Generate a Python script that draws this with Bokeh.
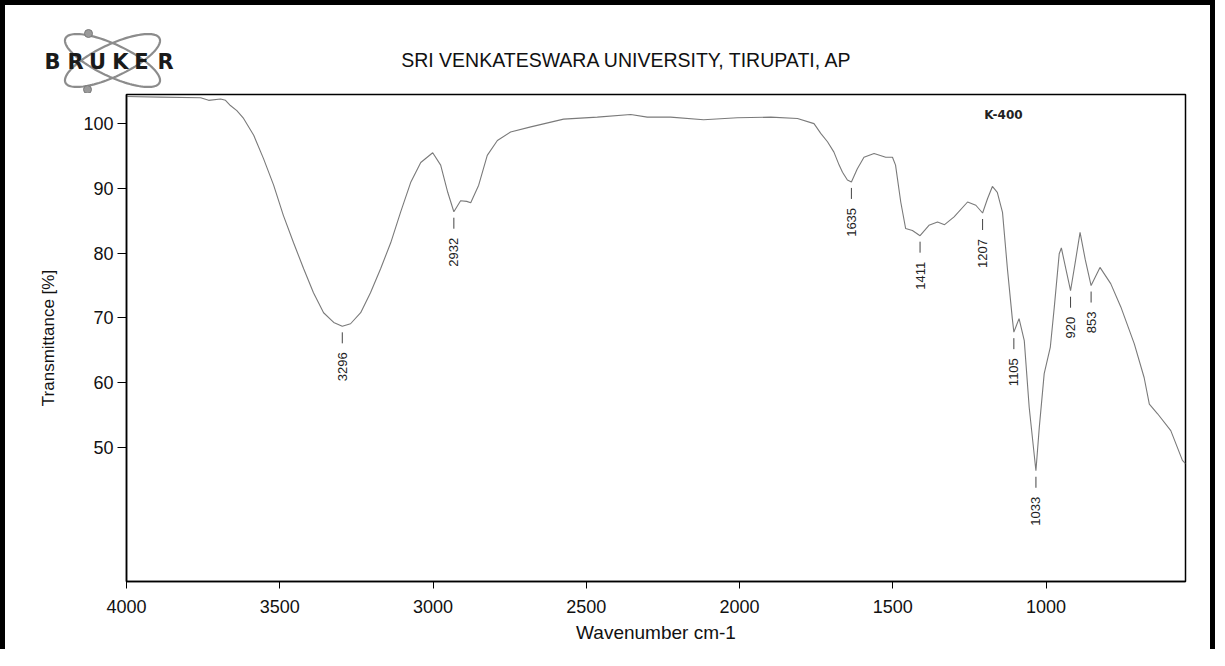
import numpy as np
from bokeh.plotting import figure
from bokeh.layouts import column
from bokeh.models import Range1d, FixedTicker, Label
from bokeh.core.properties import value
from bokeh.embed import file_html
from bokeh.resources import INLINE

# ---------------- data ----------------
wavenumber = [4000, 3889, 3758, 3732, 3693, 3677, 3661, 3640, 3618, 3585, 3553,
              3520, 3488, 3455, 3422, 3390, 3357, 3324, 3296, 3269, 3236, 3204,
              3171, 3138, 3106, 3073, 3040, 3001, 2975, 2952, 2932, 2910, 2890,
              2877, 2851, 2823, 2790, 2747, 2681, 2574, 2464, 2355, 2301, 2225,
              2117, 2007, 1898, 1811, 1757, 1735, 1713, 1692, 1675, 1664, 1648,
              1635, 1616, 1594, 1561, 1523, 1501, 1491, 1474, 1458, 1436, 1411,
              1382, 1354, 1331, 1300, 1256, 1229, 1207, 1191, 1175, 1159, 1142,
              1126, 1110, 1105, 1088, 1071, 1055, 1033, 1022, 1006, 986, 973,
              957, 950, 935, 920, 905, 889, 872, 853, 824, 789, 756, 712, 680,
              663, 636, 593, 555, 545]
transmittance = [104.2, 104.1, 104.0, 103.6, 103.8, 103.6, 102.8, 102.0, 100.8,
                 98.2, 94.6, 90.5, 85.8, 81.6, 77.6, 73.9, 70.8, 69.3, 68.7, 69.1,
                 70.8, 73.9, 77.6, 81.6, 86.3, 90.9, 94.0, 95.5, 93.6, 89.4, 86.4,
                 88.1, 88.0, 87.8, 90.5, 95.1, 97.4, 98.7, 99.5, 100.7, 101.0,
                 101.4, 101.0, 101.0, 100.6, 100.9, 101.0, 100.8, 100.0, 98.5,
                 97.2, 95.6, 93.6, 92.5, 91.3, 91.0, 93.0, 94.8, 95.4, 94.8, 94.8,
                 93.6, 87.9, 83.8, 83.5, 82.7, 84.3, 84.8, 84.4, 85.6, 87.9, 87.4,
                 86.2, 88.4, 90.3, 89.4, 86.3, 77.6, 69.9, 67.8, 69.9, 66.5, 56.2,
                 46.4, 53.1, 61.4, 65.5, 71.7, 79.9, 80.8, 77.5, 74.2, 78.5, 83.2,
                 79.0, 75.0, 77.8, 75.3, 71.7, 66.0, 60.8, 56.7, 55.2, 52.6, 48.0,
                 47.5]

peak_wn = [3296, 2932, 1635, 1411, 1207, 1105, 1033, 920, 853]
peak_t = [68.7, 86.4, 91.0, 82.7, 86.2, 67.8, 46.4, 74.2, 75.0]
peak_labels = ["3296", "2932", "1635", "1411", "1207", "1105", "1033", "920", "853"]

x_ticks = [4000, 3500, 3000, 2500, 2000, 1500, 1000]
y_ticks = [50, 60, 70, 80, 90, 100]

title_text = "SRI VENKATESWARA UNIVERSITY,  TIRUPATI,  AP"
sample_text = "K-400"
logo_text = "BRUKER"

# ---------------- layout ----------------
X_START, X_END = 4000, 545
Y_MIN, Y_MAX = 29.3, 104.5
BORDER = 5
W = 1205
HEAD_H = 88
ML, MR, MT, MB = 121, 25, 1, 68
FH = 487
H = MT + FH + MB
FW = W - ML - MR
FONT = "Liberation Sans"
KY = (Y_MAX - Y_MIN) / FH  # data units per pixel vertically

# ---------------- header (logo + title) ----------------
head = figure(width=W, height=HEAD_H, output_backend="svg", toolbar_location=None,
              x_range=Range1d(0, W), y_range=Range1d(HEAD_H, 0),
              min_border=0, x_axis_location=None, y_axis_location=None)
head.frame_align = False
head.xgrid.visible = False
head.ygrid.visible = False
head.outline_line_color = None

ox, oy = BORDER, BORDER  # header origin in page-picture pixels
tt = np.linspace(0, 2 * np.pi, 120)
for ang in (0.44, -0.44):
    ex = 112 + 52 * np.cos(tt) * np.cos(ang) - 16 * np.sin(tt) * np.sin(ang)
    ey = 60 + 52 * np.cos(tt) * np.sin(ang) + 16 * np.sin(tt) * np.cos(ang)
    head.line(ex - ox, ey - oy, line_color="#8c8c8c", line_width=2.2)
head.scatter([88 - ox, 87 - ox], [33 - oy, 89 - oy], size=8,
             fill_color="#9a9a9a", line_color="#7a7a7a")
letter_x = [52, 75, 97, 120, 141, 165]
head.text(x=[v - ox for v in letter_x], y=[61 - oy] * 6, text=list(logo_text),
          text_align="center", text_baseline="middle",
          text_font=value("DejaVu Sans"), text_font_style="bold",
          text_font_size="21px", text_color="#1a1a1a")
head.text(x=[632 - ox], y=[59 - oy], text=[title_text], text_align="center",
          text_baseline="middle", text_font=value(FONT), text_font_size="19.5px",
          text_color="#111111")

# ---------------- main spectrum ----------------
p = figure(width=W, height=H, output_backend="svg", toolbar_location=None,
           x_range=Range1d(X_START, X_END), y_range=Range1d(Y_MIN, Y_MAX),
           min_border_left=ML, min_border_right=MR, min_border_top=MT,
           min_border_bottom=MB)
p.frame_align = False
p.xgrid.visible = False
p.ygrid.visible = False
p.outline_line_color = "black"
p.outline_line_width = 1.5

p.line(wavenumber, transmittance, line_color="#7a7a7a", line_width=1.1)

p.segment(x0=peak_wn, y0=[t - 6 * KY for t in peak_t],
          x1=peak_wn, y1=[t - 17 * KY for t in peak_t],
          line_color="#444444", line_width=1)
p.text(x=peak_wn, y=peak_t, text=peak_labels, angle=np.pi / 2,
       text_align="right", text_baseline="middle", y_offset=26,
       text_font=value(FONT), text_font_size="13px", text_color="#222222")

for ax in (p.xaxis[0], p.yaxis[0]):
    ax.axis_line_color = "black"
    ax.axis_line_width = 1.5
    ax.major_tick_line_color = "black"
    ax.major_tick_line_width = 1
    ax.major_tick_in = 0
    ax.minor_tick_line_color = None
    ax.major_label_text_font = FONT
    ax.major_label_text_font_size = "18px"
    ax.major_label_text_color = "#111111"
    ax.axis_label_text_font = FONT
    ax.axis_label_text_font_style = "normal"
    ax.axis_label_text_color = "#111111"

p.xaxis.ticker = FixedTicker(ticks=x_ticks)
p.xaxis.major_tick_out = 7
p.xaxis.major_label_standoff = 11
p.xaxis.axis_label = "Wavenumber cm-1"
p.xaxis.axis_label_text_font_size = "19px"
p.xaxis.axis_label_standoff = 6

p.yaxis.ticker = FixedTicker(ticks=y_ticks)
p.yaxis.major_tick_out = 9
p.yaxis.major_label_standoff = 4
p.yaxis.axis_label = "Transmittance [%]"
p.yaxis.axis_label_text_font_size = "17px"
p.yaxis.axis_label_standoff = 22

p.add_layout(Label(x=X_START - (1003 - BORDER - ML) * (X_START - X_END) / FW,
                   y=Y_MAX - (114 - BORDER - HEAD_H - MT) * KY, text=sample_text,
                   text_align="center", text_baseline="middle",
                   text_font="DejaVu Sans", text_font_style="bold",
                   text_font_size="12px", text_color="#222222"))

page = column(head, p, spacing=0,
              styles={"border-left": f"{BORDER}px solid black",
                      "border-top": f"{BORDER}px solid black",
                      "border-right": f"{BORDER}px solid black"})

open("out.html", "w").write(file_html(page, INLINE))
